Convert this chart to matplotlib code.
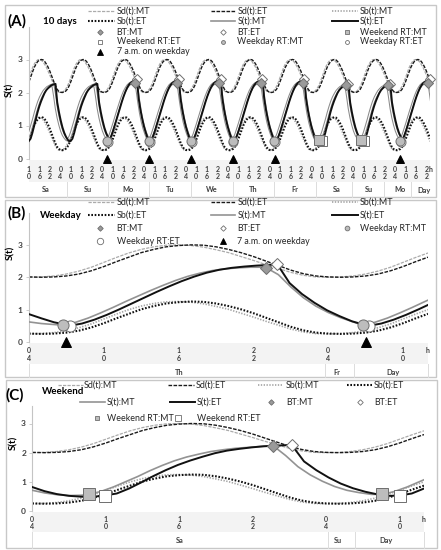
#!/usr/bin/env python3
"""Two-process sleep model: thresholds and S(t) for morning (MT) and evening (ET) types."""

import matplotlib
matplotlib.use("Agg")
import matplotlib.pyplot as plt
from matplotlib.patches import Rectangle
import numpy as np

plt.rcParams["font.family"] = ["Lato", "DejaVu Sans"]

W, H = 441, 550

# ── Circadian thresholds, value at each hour of the day (0..23) ───────────────
SD_MT = [2.27, 2.15, 2.06, 2.01, 2.00, 2.01, 2.04, 2.10, 2.19, 2.31, 2.46, 2.61,
         2.75, 2.86, 2.94, 2.99, 3.00, 2.98, 2.93, 2.85, 2.76, 2.64, 2.52, 2.39]
SD_ET = [2.36, 2.22, 2.11, 2.04, 2.01, 2.00, 2.01, 2.04, 2.10, 2.20, 2.33, 2.48,
         2.62, 2.76, 2.86, 2.94, 2.98, 3.00, 2.99, 2.94, 2.86, 2.76, 2.64, 2.50]
SB_MT = [0.52, 0.40, 0.31, 0.26, 0.25, 0.26, 0.29, 0.35, 0.44, 0.56, 0.71, 0.86,
         1.00, 1.11, 1.19, 1.24, 1.25, 1.23, 1.18, 1.10, 1.01, 0.89, 0.77, 0.64]
SB_ET = [0.61, 0.47, 0.36, 0.29, 0.26, 0.25, 0.26, 0.29, 0.35, 0.45, 0.58, 0.73,
         0.87, 1.01, 1.11, 1.19, 1.23, 1.25, 1.24, 1.19, 1.11, 1.01, 0.89, 0.75]

# ── S(t) while awake: hours since rise time (RT) ─────────────────────────────
RISE_WD_MT = [0.52, 0.61, 0.74, 0.90, 1.07, 1.25, 1.42, 1.59, 1.75, 1.90, 2.03,
              2.13, 2.21, 2.26, 2.29, 2.31, 2.31]
RISE_WD_ET = [0.50, 0.57, 0.69, 0.84, 1.01, 1.19, 1.37, 1.55, 1.72, 1.88, 2.02,
              2.14, 2.23, 2.29, 2.33, 2.36, 2.38]
RISE_WE_MT = [0.57, 0.67, 0.82, 1.00, 1.18, 1.38, 1.56, 1.72, 1.85, 1.95, 2.04,
              2.10, 2.15, 2.18, 2.21, 2.23]
RISE_WE_ET = [0.53, 0.60, 0.77, 0.98, 1.20, 1.40, 1.58, 1.73, 1.86, 1.98, 2.07,
              2.13, 2.18, 2.22, 2.24, 2.26]
# ── S(t) while asleep: hours since bed time (BT), first value = BT value ─────
SLEEP_WD_MT = [2.30, 2.08, 1.70, 1.37, 1.11, 0.91, 0.75, 0.62, 0.54, 0.51]
SLEEP_WD_ET = [2.41, 1.82, 1.48, 1.21, 0.98, 0.80, 0.64, 0.53, 0.48, 0.46]
SLEEP_WE_MT = [2.23, 1.90, 1.52, 1.24, 1.02, 0.84, 0.71, 0.63, 0.57]
SLEEP_WE_ET = [2.26, 1.70, 1.40, 1.15, 0.94, 0.78, 0.66, 0.57, 0.52]

# ── Panel A: 10 days, hours counted from 00:00 of the first Saturday ─────────
A_KIND = ["we", "we", "wd", "wd", "wd", "wd", "wd", "we", "we", "wd"]
A_RT_MT = [8.6, 32.6, 54.75, 78.75, 102.75, 126.75, 150.75, 176.6, 200.6, 222.75]
A_BT_MT = [23.7, 47.7, 71.0, 95.0, 119.0, 143.0, 167.0, 191.7, 215.7, 239.0]
A_RT_ET = [9.9, 33.9, 55.25, 79.25, 103.25, 127.25, 151.25, 177.9, 201.9, 223.25]
A_BT_ET = [25.2, 49.2, 71.9, 95.9, 119.9, 143.9, 167.9, 193.2, 217.2, 239.9]
A_FIRST_MARKED = 2
A_ALARM = [55, 79, 103, 127, 151, 223]
A_TICKS = list(range(10, 239, 6))
A_DAYS = ["Sa", "Su", "Mo", "Tu", "We", "Th", "Fr", "Sa", "Su", "Mo", "Day"]
A_DAY_POS = [19.8, 43.5, 67.0, 90.9, 114.9, 138.8, 162.7, 186.6, 204.8, 222.6, 236.4]
A_DAY_SEP = [31.7, 55.3, 79.0, 102.9, 126.9, 150.8, 174.7, 195.7, 213.7, 229.5]

# ── Panel B: weekday (Th 04:00 .. Fr 12:00) ──────────────────────────────────
B_KIND = ["wd", "wd"]
B_PRE_T_MT, B_PRE_MT = [4, 5, 6], [0.62, 0.57, 0.54]
B_PRE_T_ET, B_PRE_ET = [4, 5, 6, 7], [0.86, 0.73, 0.61, 0.53]
B_RT_MT, B_BT_MT = [6.75, 30.75], [23.0, None]
B_RT_ET, B_BT_ET = [7.25, 31.25], [23.9, None]
B_ALARM = [7, 31]
B_DAYS, B_DAY_POS = ["Th", "Fr", "Day"], [16.05, 28.68, 33.2]
B_DAY_SEP = [4.0, 27.74, 30.09, 36.0]

# ── Panel C: weekend (Sa 04:00 .. Su 12:00) ──────────────────────────────────
C_KIND = ["we", "we"]
C_PRE_T_MT, C_PRE_MT = [4, 5, 6, 7, 8], [0.71, 0.62, 0.56, 0.53, 0.54]
C_PRE_T_ET, C_PRE_ET = [4, 5, 6, 7, 8, 9], [0.82, 0.68, 0.58, 0.52, 0.49, 0.49]
C_RT_MT, C_BT_MT = [8.6, 32.6], [23.7, None]
C_RT_ET, C_BT_ET = [9.9, 34.0], [25.2, None]
C_DAYS, C_DAY_POS = ["Sa", "Su", "Day"], [16.06, 28.98, 32.93]
C_DAY_SEP = [4.0, 28.16, 30.34, 36.0]
BC_TICKS = [4, 10, 16, 22, 28, 34]

RISE = {("wd", "MT"): RISE_WD_MT, ("wd", "ET"): RISE_WD_ET,
        ("we", "MT"): RISE_WE_MT, ("we", "ET"): RISE_WE_ET}
SLEEP = {("wd", "MT"): SLEEP_WD_MT, ("wd", "ET"): SLEEP_WD_ET,
         ("we", "MT"): SLEEP_WE_MT, ("we", "ET"): SLEEP_WE_ET}
THRESH = {"sd_mt": SD_MT, "sd_et": SD_ET, "sb_mt": SB_MT, "sb_et": SB_ET}

GRAY_FILL, EDGE = "#bdbdbd", "#6e6e6e"
STY = {
    "sd_mt": dict(color="#ababab", lw=0.9, ls=(0, (2.6, 1.0))),
    "sd_et": dict(color="#1a1a1a", lw=1.0, ls=(0, (2.6, 1.0))),
    "sb_mt": dict(color="#a3a3a3", lw=1.2, ls=(0, (0.8, 0.9))),
    "sb_et": dict(color="#111111", lw=1.5, ls=(0, (0.8, 0.8))),
    "s_mt": dict(color="#939393", lw=1.2, ls="-"),
    "s_et": dict(color="#111111", lw=1.4, ls="-"),
}
MK = {
    "bt_mt": dict(marker="D", mfc="#9a9a9a", mec=EDGE),
    "bt_et": dict(marker="D", mfc="white", mec=EDGE),
    "we_mt": dict(marker="s", mfc=GRAY_FILL, mec=EDGE),
    "we_et": dict(marker="s", mfc="white", mec=EDGE),
    "wd_mt": dict(marker="o", mfc=GRAY_FILL, mec=EDGE),
    "wd_et": dict(marker="o", mfc="white", mec=EDGE),
    "alarm": dict(marker="^", mfc="black", mec="black"),
}


def s_curve(pre_t, pre_v, rts, bts, kinds, chrono):
    """Chain wake (rise) and sleep segments between the given RT/BT times."""
    ts, vs = list(pre_t), list(pre_v)
    for i, (rt, bt, kind) in enumerate(zip(rts, bts, kinds)):
        for k, v in enumerate(RISE[kind, chrono]):
            if bt is not None and rt + k >= bt:
                break
            ts.append(rt + k)
            vs.append(v)
        if bt is None:
            continue
        nxt = rts[i + 1] if i + 1 < len(rts) else np.inf
        for k, v in enumerate(SLEEP[kind, chrono]):
            if bt + k >= nxt:
                break
            ts.append(bt + k)
            vs.append(v)
    return ts, vs


def threshold(name, t0, t1):
    t = np.arange(t0, t1 + 1)
    return t, [THRESH[name][int(h) % 24] for h in t]


fig = plt.figure(figsize=(W / 100, H / 100), dpi=100)
bg = fig.add_axes([0, 0, 1, 1])
bg.set_xlim(0, W)
bg.set_ylim(H, 0)
bg.axis("off")


def px_axes(x0, x1, y_top, y_bot):
    return fig.add_axes([x0 / W, 1 - y_bot / H, (x1 - x0) / W, (y_bot - y_top) / H])


def below(ax, x, dy, text, **kw):
    kw.setdefault("fontsize", 5)
    kw.setdefault("fontweight", "bold")
    kw.setdefault("color", "#404040")
    ax.annotate(text, xy=(x, 0), xycoords=ax.get_xaxis_transform(),
                xytext=(0, -dy * 0.72), textcoords="offset points",
                ha="center", va="center", annotation_clip=False, **kw)


def style_axes(ax, xlim, ylim):
    ax.set_xlim(*xlim)
    ax.set_ylim(*ylim)
    ax.patch.set_alpha(0)
    for side in ("top", "right", "bottom"):
        ax.spines[side].set_visible(False)
    ax.spines["left"].set_color("#c4c4c4")
    ax.spines["left"].set_linewidth(0.8)
    ax.set_xticks([])
    ax.set_yticks([0, 1, 2, 3])
    ax.tick_params(axis="y", length=2, width=0.6, color="#c4c4c4", pad=2.5,
                   labelsize=6, labelcolor="#404040")
    for lab in ax.get_yticklabels():
        lab.set_fontweight("bold")


def hour_ticks(ax, ticks, rows, h_x):
    for t in ticks:
        s = f"{int(t) % 24:02d}"
        below(ax, t, rows[0], s[0])
        below(ax, t, rows[1], s[1])
    below(ax, h_x, rows[0], "h")


def day_row(ax, names, pos, dy):
    for name, x in zip(names, pos):
        below(ax, x, dy, name, fontsize=5.3)


def panel_frame(box, band, seps_px):
    x0, y0, x1, y1 = box
    bg.add_patch(Rectangle((x0, y0), x1 - x0, y1 - y0, fill=False,
                           ec="#c8c8c8", lw=1.0))
    bx0, by0, bx1, by1 = band
    bg.add_patch(Rectangle((bx0, by0), bx1 - bx0, by1 - by0, fc="#f3f3f3",
                           ec="none"))
    for xs in seps_px:
        bg.plot([xs, xs], [by1, y1], color="#dcdcdc", lw=0.7)


def legend_line(key, x0, x1, y, text_x, label):
    bg.plot([x0, x1], [y, y], **STY[key])
    bg.text(text_x, y, label, fontsize=6.4, va="center", color="#262626")


def legend_mark(key, xm, y, text_x, label, size=2.8):
    bg.plot([xm], [y], ls="none", ms=size, mew=0.6, **MK[key])
    bg.text(text_x, y, label, fontsize=6.4, va="center", color="#262626")


def draw_thresholds(ax, t0, t1):
    for key in ("sd_mt", "sd_et", "sb_mt", "sb_et"):
        t, v = threshold(key, t0, t1)
        ax.plot(t, v, **STY[key], zorder=2)


def draw_markers(ax, ts, vs, key, size):
    ax.plot(ts, vs, ls="none", ms=size, mew=0.7, zorder=6, clip_on=False, **MK[key])


def ylabel(x, y):
    bg.text(x, y, "S(t)", fontsize=7, fontweight="bold", rotation=90,
            ha="center", va="center")


# ═══ Panel A ══════════════════════════════════════════════════════════════
axA = px_axes(29, 430, 26.5, 158.5)
style_axes(axA, (10, 240), (0, 4))
draw_thresholds(axA, 10, 240)
tA_mt, sA_mt = s_curve([], [], A_RT_MT, A_BT_MT, A_KIND, "MT")
tA_et, sA_et = s_curve([], [], A_RT_ET, A_BT_ET, A_KIND, "ET")
axA.plot(tA_mt, sA_mt, color="#8a8a8a", lw=2.3, zorder=3)
axA.plot(tA_mt, sA_mt, color="white", lw=0.8, zorder=3)
axA.plot(tA_et, sA_et, **STY["s_et"], zorder=4)

marked = range(A_FIRST_MARKED, len(A_KIND))
for chrono, rts, bts in (("et", A_RT_ET, A_BT_ET), ("mt", A_RT_MT, A_BT_MT)):
    key_c = chrono.upper()
    draw_markers(axA, [bts[i] for i in marked],
                 [SLEEP[A_KIND[i], key_c][0] for i in marked], "bt_" + chrono, 5)
    for kind, size in (("wd", 6.5), ("we", 7.5)):
        idx = [i for i in marked if A_KIND[i] == kind]
        draw_markers(axA, [rts[i] for i in idx],
                     [RISE[kind, key_c][0] for i in idx], f"{kind}_{chrono}", size)
draw_markers(axA, A_ALARM, [0] * len(A_ALARM), "alarm", 5.5)

panel_frame((5, 5, 436, 197), (29, 160, 430, 182),
            [29 + (h - 10) * 1.742 for h in A_DAY_SEP])
hour_ticks(axA, A_TICKS, (10.5, 17.8), 240.3)
day_row(axA, A_DAYS, A_DAY_POS, 31.5)

bg.text(7, 21, "(A)", fontsize=11, fontweight="bold", va="center")
bg.text(43, 21, "10 days", fontsize=7, fontweight="bold", va="center")
ylabel(10, 90)

cols = [(88, 115, 100, 116.7), (210.7, 235.3, 222.7, 237.3), (331.7, 358.3, 346.7, 360)]
legend_line("sd_mt", cols[0][0], cols[0][1], 11, cols[0][3], "Sd(t):MT")
legend_line("sd_et", cols[1][0], cols[1][1], 11, cols[1][3], "Sd(t):ET")
legend_line("sb_mt", cols[2][0], cols[2][1], 11, cols[2][3], "Sb(t):MT")
legend_line("sb_et", cols[0][0], cols[0][1], 20.7, cols[0][3], "Sb(t):ET")
legend_line("s_mt", cols[1][0], cols[1][1], 20.7, cols[1][3], "S(t):MT")
legend_line("s_et", cols[2][0], cols[2][1], 20.7, cols[2][3], "S(t):ET")
legend_mark("bt_mt", cols[0][2], 32.3, cols[0][3], "BT:MT")
legend_mark("bt_et", cols[1][2], 32.3, cols[1][3], "BT:ET")
legend_mark("we_mt", cols[2][2], 32.3, cols[2][3], "Weekend RT:MT")
legend_mark("we_et", cols[0][2], 41.7, cols[0][3], "Weekend RT:ET")
legend_mark("wd_mt", cols[1][2], 41.7, cols[1][3], "Weekday RT:MT")
legend_mark("wd_et", cols[2][2], 41.7, cols[2][3], "Weekday RT:ET")
legend_mark("alarm", cols[0][2], 51.7, cols[0][3], "7 a.m. on weekday", size=3.8)

# ═══ Panel B ══════════════════════════════════════════════════════════════
axB = px_axes(29, 428, 212.5, 342)
style_axes(axB, (4, 36), (0, 4))
draw_thresholds(axB, 4, 36)
tB_mt, sB_mt = s_curve(B_PRE_T_MT, B_PRE_MT, B_RT_MT, B_BT_MT, B_KIND, "MT")
tB_et, sB_et = s_curve(B_PRE_T_ET, B_PRE_ET, B_RT_ET, B_BT_ET, B_KIND, "ET")
axB.plot(tB_mt, sB_mt, **STY["s_mt"], zorder=3)
axB.plot(tB_et, sB_et, **STY["s_et"], zorder=4)
draw_markers(axB, [B_BT_ET[0]], [SLEEP_WD_ET[0]], "bt_et", 6.5)
draw_markers(axB, [B_BT_MT[0]], [SLEEP_WD_MT[0]], "bt_mt", 6.5)
draw_markers(axB, B_RT_ET, [RISE_WD_ET[0]] * 2, "wd_et", 8)
draw_markers(axB, B_RT_MT, [RISE_WD_MT[0]] * 2, "wd_mt", 8)
draw_markers(axB, B_ALARM, [0] * len(B_ALARM), "alarm", 6.5)

panel_frame((5, 200, 436, 377), (29, 343, 428, 364),
            [29 + (t - 4) * 12.47 for t in B_DAY_SEP])
hour_ticks(axB, BC_TICKS, (8.7, 16.3), 36.0)
day_row(axB, B_DAYS, B_DAY_POS, 30.3)

bg.text(8, 213.5, "(B)", fontsize=11, fontweight="bold", va="center")
bg.text(40, 216, "Weekday", fontsize=7, fontweight="bold", va="center")
ylabel(11, 253)
legend_line("sd_mt", cols[0][0], cols[0][1], 201.7, cols[0][3], "Sd(t):MT")
legend_line("sd_et", cols[1][0], cols[1][1], 201.7, cols[1][3], "Sd(t):ET")
legend_line("sb_mt", cols[2][0], cols[2][1], 201.7, cols[2][3], "Sb(t):MT")
legend_line("sb_et", cols[0][0], cols[0][1], 215, cols[0][3], "Sb(t):ET")
legend_line("s_mt", cols[1][0], cols[1][1], 215, cols[1][3], "S(t):MT")
legend_line("s_et", cols[2][0], cols[2][1], 215, cols[2][3], "S(t):ET")
legend_mark("bt_mt", cols[0][2], 228.3, cols[0][3], "BT:MT")
legend_mark("bt_et", cols[1][2], 228.3, cols[1][3], "BT:ET")
legend_mark("wd_mt", cols[2][2], 228.3, cols[2][3], "Weekday RT:MT", size=3.4)
legend_mark("wd_et", cols[0][2], 241, cols[0][3], "Weekday RT:ET", size=4.6)
legend_mark("alarm", cols[1][2], 241, cols[1][3], "7 a.m. on weekday", size=3.8)

# ═══ Panel C ══════════════════════════════════════════════════════════════
axC = px_axes(32.3, 424, 406, 511)
style_axes(axC, (4, 36), (0, 3.6))
draw_thresholds(axC, 4, 36)
tC_mt, sC_mt = s_curve(C_PRE_T_MT, C_PRE_MT, C_RT_MT, C_BT_MT, C_KIND, "MT")
tC_et, sC_et = s_curve(C_PRE_T_ET, C_PRE_ET, C_RT_ET, C_BT_ET, C_KIND, "ET")
axC.plot(tC_mt, sC_mt, **STY["s_mt"], zorder=3)
axC.plot(tC_et, sC_et, **STY["s_et"], zorder=4)
draw_markers(axC, [C_BT_ET[0]], [SLEEP_WE_ET[0]], "bt_et", 6.5)
draw_markers(axC, [C_BT_MT[0]], [SLEEP_WE_MT[0]], "bt_mt", 6.5)
draw_markers(axC, C_RT_ET, [RISE_WE_ET[0]] * 2, "we_et", 9)
draw_markers(axC, C_RT_MT, [RISE_WE_MT[0]] * 2, "we_mt", 9)

panel_frame((6, 380, 437, 548), (32.3, 512, 424, 532),
            [32.3 + (t - 4) * 12.25 for t in C_DAY_SEP])
hour_ticks(axC, BC_TICKS, (8.3, 15.7), 36.0)
day_row(axC, C_DAYS, C_DAY_POS, 29.7)

bg.text(6, 395, "(C)", fontsize=11, fontweight="bold", va="center")
bg.text(42, 392, "Weekend", fontsize=7, fontweight="bold", va="center")
ylabel(14, 443)
legend_line("sd_mt", 58, 83, 385, 84, "Sd(t):MT")
legend_line("sd_et", 168, 194, 385, 196, "Sd(t):ET")
legend_line("sb_mt", 258, 283, 385, 286, "Sb(t):MT")
legend_line("sb_et", 347, 373, 385, 374, "Sb(t):ET")
legend_line("s_mt", 80, 105, 402.3, 106.7, "S(t):MT")
legend_line("s_et", 170, 195, 402.3, 196.7, "S(t):ET")
legend_mark("bt_mt", 270.7, 402.3, 286, "BT:MT")
legend_mark("bt_et", 360, 402.3, 374, "BT:ET")
legend_mark("we_mt", 96.7, 418.3, 106.7, "Weekend RT:MT", size=3.4)
legend_mark("we_et", 178.3, 418.3, 196.7, "Weekend RT:ET", size=4.6)

fig.savefig("out.png", dpi=100)
